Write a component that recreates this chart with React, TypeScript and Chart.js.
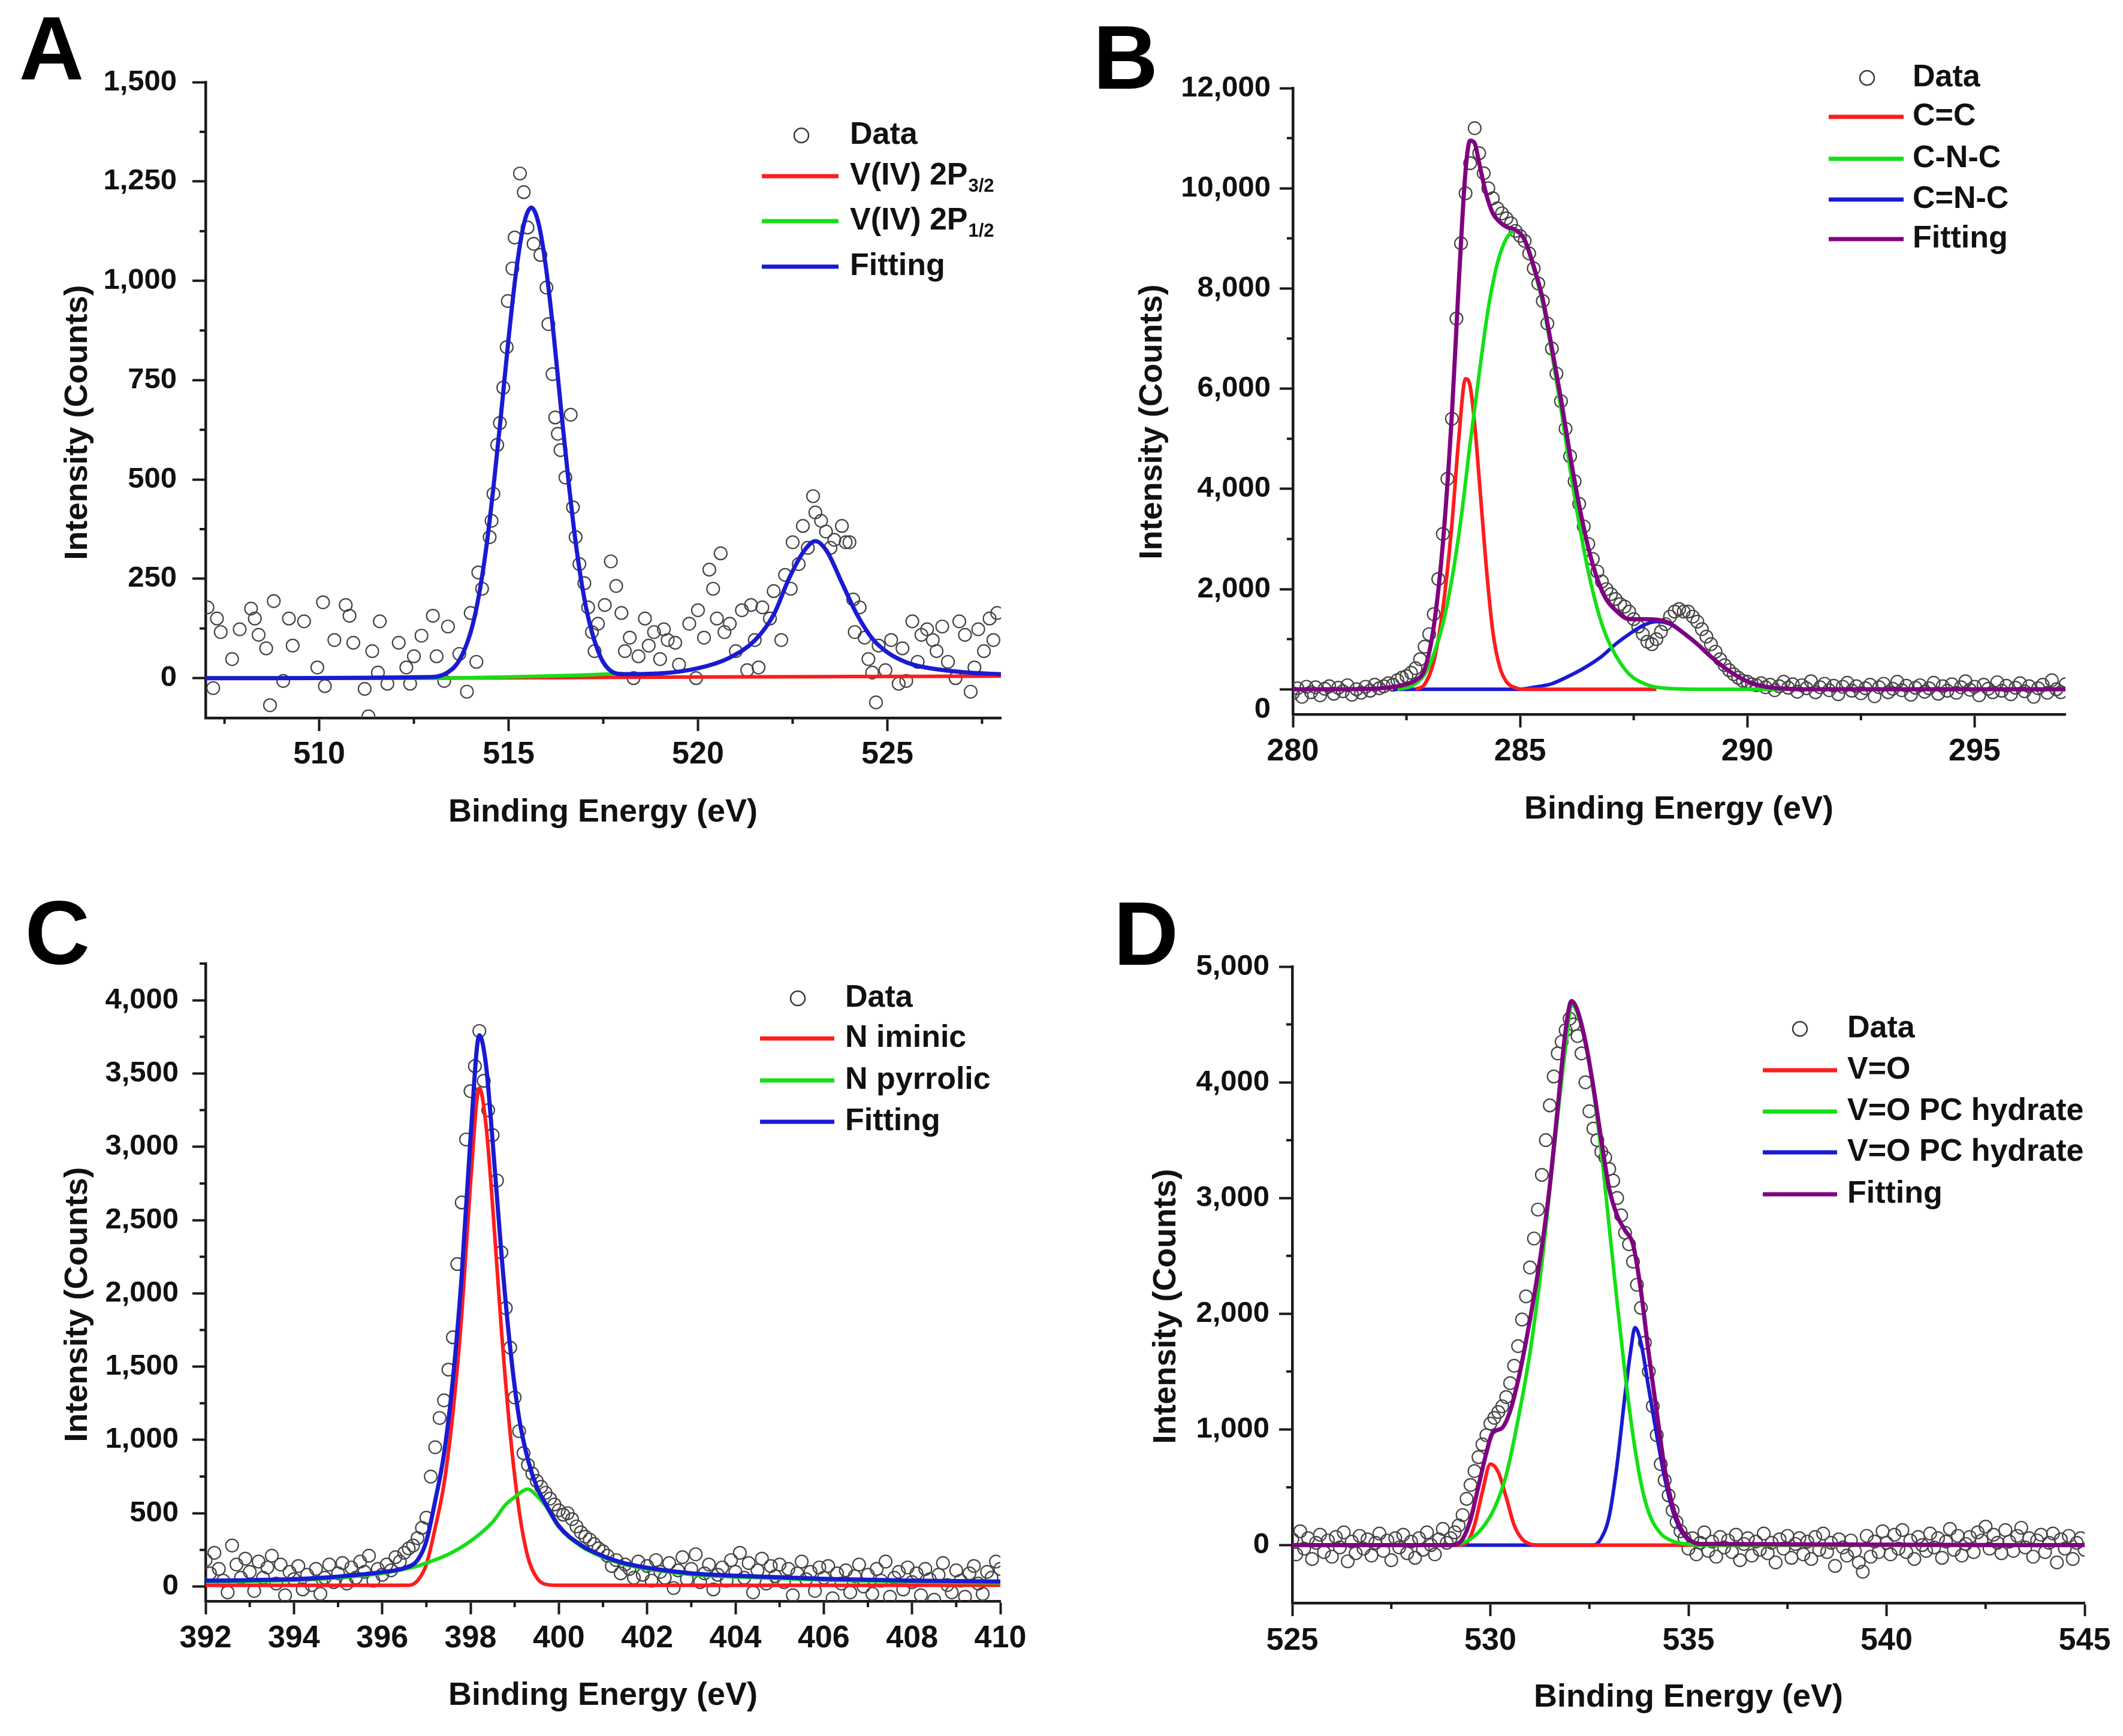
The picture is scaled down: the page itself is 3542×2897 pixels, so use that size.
import { useEffect, useRef } from 'react';
import { Chart, registerables } from 'chart.js';

Chart.register(...registerables);

const FONT = '"Liberation Sans", Arial, Helvetica, sans-serif';
const TEXT = '#111111';
const AXIS = '#1a1a1a';
const RED = '#ff1c1c';
const GREEN = '#14e014';
const BLUE = '#1a1ad2';
const PURPLE = '#800080';

// ---------------- Panel A : V 2p ----------------
const energyA = [507.05, 507.2, 507.3, 507.4, 507.7, 507.9, 508.2, 508.3, 508.4, 508.6, 508.7, 508.8, 509.05, 509.2, 509.3, 509.6, 509.95, 510.1, 510.15, 510.4, 510.7, 510.8, 510.9, 511.2, 511.3, 511.4, 511.55, 511.6, 511.8, 512.1, 512.3, 512.4, 512.5, 512.7, 513.0, 513.1, 513.3, 513.4, 513.7, 513.9, 514.0, 514.15, 514.2, 514.3, 514.5, 514.55, 514.6, 514.7, 514.77, 514.86, 514.95, 514.98, 515.1, 515.16, 515.3, 515.4, 515.5, 515.66, 515.84, 516.0, 516.05, 516.16, 516.23, 516.3, 516.37, 516.5, 516.64, 516.7, 516.77, 516.87, 517.0, 517.1, 517.2, 517.27, 517.36, 517.54, 517.7, 517.84, 517.98, 518.07, 518.2, 518.3, 518.43, 518.6, 518.7, 518.84, 519.0, 519.1, 519.2, 519.4, 519.5, 519.77, 519.95, 520.0, 520.16, 520.3, 520.4, 520.5, 520.6, 520.7, 520.84, 521.0, 521.16, 521.3, 521.4, 521.5, 521.6, 521.7, 521.9, 522.0, 522.2, 522.3, 522.45, 522.5, 522.66, 522.77, 522.9, 523.04, 523.1, 523.25, 523.38, 523.5, 523.6, 523.8, 523.9, 524.0, 524.1, 524.14, 524.27, 524.4, 524.5, 524.6, 524.7, 524.77, 524.95, 525.1, 525.3, 525.4, 525.5, 525.66, 525.8, 525.9, 526.05, 526.2, 526.3, 526.45, 526.6, 526.8, 526.9, 527.05, 527.2, 527.3, 527.4, 527.55, 527.7, 527.8, 527.9];
const countsA = [178, -25, 150, 116, 48, 123, 175, 150, 109, 75, -68, 194, -7, 150, 82, 143, 27, 191, -20, 96, 184, 157, 89, -27, -96, 68, 14, 143, -14, 89, 27, -14, 55, 107, 157, 55, -7, 130, 61, -34, 164, 41, 266, 225, 355, 396, 464, 587, 642, 731, 833, 949, 1031, 1109, 1270, 1223, 1134, 1093, 1065, 983, 891, 765, 656, 615, 574, 505, 663, 430, 355, 287, 239, 178, 116, 68, 137, 184, 294, 232, 164, 68, 102, 0, 55, 150, 82, 116, 48, 123, 96, 89, 34, 137, 0, 171, 102, 273, 225, 150, 314, 116, 137, 68, 171, 20, 184, 96, 27, 178, 150, 219, 96, 260, 225, 342, 287, 383, 328, 458, 417, 396, 369, 328, 348, 383, 342, 342, 198, 116, 178, 102, 48, 14, -61, 82, 20, 96, -14, 75, -7, 143, 41, 109, 123, 96, 68, 130, 41, 0, 143, 109, -34, 27, 123, 68, 150, 96, 164];
const fitAx = [507, 513.0, 513.4, 513.7, 514.0, 514.2, 514.4, 514.6, 514.8, 515.0, 515.2, 515.4, 515.6, 515.8, 516.0, 516.2, 516.4, 516.6, 516.8, 517.0, 517.2, 517.5, 518.0, 519.0, 520.0, 520.8, 521.5, 522.0, 522.4, 522.8, 523.1, 523.4, 523.8, 524.2, 524.6, 525.0, 525.5, 526.0, 527.0, 528.0];
const fitAy = [0, 3, 15, 45, 116, 200, 321, 480, 663, 855, 1024, 1141, 1184, 1141, 1024, 855, 663, 480, 321, 200, 116, 40, 10, 12, 25, 50, 95, 160, 250, 320, 345, 320, 240, 160, 100, 65, 40, 27, 15, 10];
const p32Ax = [507, 512, 518, 520, 524, 528];
const p32Ay = [0, 0, 2, 3, 4, 5];
const p12Ax = [507, 513.3, 514.5, 516, 517, 518];
const p12Ay = [0, 0, 2, 5, 8, 12];
const xTicksA = [510, 515, 520, 525];
const yTicksA = [0, 250, 500, 750, 1000, 1250, 1500];
const xMinorA = [507.5, 512.5, 517.5, 522.5, 527.5];
const yMinorA = [125, 375, 625, 875, 1125, 1375];

// ---------------- Panel B : C 1s ----------------
const startB = 280;
const stepB = 0.1;
const countsB = [
  -80, 20, -150, 50, -60, 40, -120, 10, 60, -90,
  30, -40, 80, -110, 0, -70, 50, -30, 90, 20,
  60, 120, 90, 180, 230, 260, 330, 420, 600, 850,
  1100, 1500, 2200, 3100, 4200, 5400, 7400, 8900, 9900, 10500,
  11200, 10700, 10300, 10000, 9800, 9600, 9500, 9400, 9300, 9150,
  9050, 8950, 8700, 8400, 8100, 7750, 7300, 6800, 6300, 5750,
  5200, 4650, 4150, 3700, 3250, 2900, 2600, 2350, 2150, 2000,
  1900, 1800, 1700, 1650, 1550, 1400, 1250, 1100, 950, 900,
  1000, 1150, 1300, 1450, 1550, 1600, 1550, 1550, 1450, 1350,
  1200, 1050, 900, 750, 600, 480, 380, 300, 230, 170,
  150, 100, 80, 120, 40, 90, -20, 60, 150, 30,
  100, -50, 80, 20, 160, -60, 40, 110, -20, 70,
  -100, 50, 130, -30, 60, -80, 20, 90, -140, 40,
  110, -60, 10, 150, -20, 70, -110, 30, 80, -50,
  20, 130, -90, 60, -30, 100, -70, 40, 160, -10,
  50, -120, 90, 10, -60, 140, -30, 70, -100, 30,
  120, -40, 60, -150, 20, 90, -70, 180, 0, -60,
  100,
];
const fitBx = [280, 281, 281.8, 282.0, 282.3, 282.5, 282.7, 282.9, 283.1, 283.3, 283.5, 283.65, 283.8, 283.9, 284.0, 284.1, 284.25, 284.4, 284.55, 284.7, 284.9, 285.1, 285.3, 285.5, 285.7, 285.9, 286.1, 286.3, 286.5, 286.7, 286.9, 287.1, 287.4, 287.7, 288.0, 288.3, 288.6, 288.9, 289.2, 289.5, 289.8, 290.1, 290.4, 290.8, 291.2, 292, 297];
const fitBy = [0, 0, 10, 25, 60, 100, 180, 400, 1250, 2900, 5500, 8100, 10350, 10950, 10900, 10500, 9900, 9500, 9330, 9230, 9170, 8970, 8440, 7780, 6810, 5790, 4670, 3670, 2830, 2200, 1790, 1580, 1400, 1400, 1390, 1315, 1120, 900, 650, 430, 250, 120, 50, 10, 0, 0, 0];
const ccBx = [282.7, 282.9, 283.1, 283.3, 283.5, 283.65, 283.8, 283.9, 284.0, 284.1, 284.25, 284.4, 284.55, 284.7, 284.9, 285.1, 288];
const ccBy = [0, 100, 550, 1600, 3300, 5000, 6200, 6050, 5300, 4200, 2500, 1150, 450, 150, 30, 0, 0];
const cncBx = [282.3, 282.6, 282.9, 283.1, 283.3, 283.5, 283.7, 283.9, 284.1, 284.3, 284.5, 284.7, 284.9, 285.1, 285.3, 285.5, 285.7, 285.9, 286.1, 286.3, 286.5, 286.7, 286.9, 287.1, 287.4, 287.8, 288.2, 289, 291];
const cncBy = [0, 60, 300, 700, 1300, 2200, 3400, 4900, 6300, 7600, 8500, 9000, 9150, 8950, 8400, 7700, 6700, 5600, 4400, 3300, 2350, 1600, 1050, 680, 300, 90, 20, 0, 0];
const cnBx = [282.2, 285.0, 285.3, 285.7, 286.0, 286.4, 286.8, 287.1, 287.4, 287.7, 288.0, 288.3, 288.6, 288.9, 289.2, 289.5, 289.8, 290.1, 290.4, 290.8, 291.2];
const cnBy = [0, 0, 40, 110, 230, 420, 660, 900, 1100, 1270, 1350, 1300, 1120, 900, 650, 430, 250, 120, 50, 10, 0];
const xTicksB = [280, 285, 290, 295];
const yTicksB = [0, 2000, 4000, 6000, 8000, 10000, 12000];
const xMinorB = [282.5, 287.5, 292.5];
const yMinorB = [1000, 3000, 5000, 7000, 9000, 11000];

// ---------------- Panel C : N 1s ----------------
const startC = 392;
const stepC = 0.1;
const countsC = [
  180, 90, 230, 120, 40, -40, 280, 150, 60, 190,
  100, -30, 170, 60, 130, 210, 20, 150, -60, 100,
  50, 140, -20, 80, 10, 120, -50, 60, 150, 30,
  90, 160, 20, 130, 60, 170, 100, 210, 40, 120,
  80, 150, 110, 200, 170, 230, 260, 280, 330, 400,
  470, 750, 950, 1150, 1270, 1480, 1700, 2200, 2620, 3050,
  3380, 3550, 3790, 3450, 3250, 3080, 2770, 2280, 1900, 1630,
  1290, 1060, 910, 830, 770, 720, 680, 640, 600, 560,
  520, 490, 500, 460, 410, 370, 340, 320, 290, 260,
  240, 210, 140, 180, 90, 150, 120, 60, 170, 80,
  140, 40, 180, 100, 60, 160, -10, 110, 200, 50,
  120, 220, 30, 90, 150, -20, 80, 130, 40, 180,
  100, 230, 60, 160, -40, 110, 190, 20, 140, 70,
  150, 30, 120, -60, 90, 170, 50, 100, -30, 130,
  60, 140, -80, 90, 20, 110, -40, 70, 150, 0,
  80, -50, 120, 40, 170, -70, 60, 100, -20, 130,
  30, 90, -60, 120, 50, -90, 80, 160, 10, -40,
  110, 40, -70, 90, 140, 20, -50, 100, 60, 170,
  120,
];
const fitCx = [392, 394, 395, 396, 396.5, 396.8, 397.0, 397.2, 397.4, 397.6, 397.8, 398.0, 398.2, 398.35, 398.5, 398.7, 398.9, 399.1, 399.3, 399.5, 399.7, 400.0, 400.5, 401.0, 401.5, 402.0, 403.0, 404.0, 406.0, 408.0, 410.0];
const fitCy = [40, 50, 68, 98, 126, 180, 310, 585, 905, 1410, 2120, 3060, 3760, 3560, 3040, 2270, 1625, 1150, 865, 680, 565, 413, 283, 208, 158, 128, 90, 74, 52, 40, 34];
const imCx = [392, 396.6, 396.8, 397.0, 397.2, 397.4, 397.6, 397.8, 398.0, 398.2, 398.35, 398.5, 398.7, 398.9, 399.1, 399.3, 399.5, 399.7, 400.0, 410];
const imCy = [8, 8, 40, 150, 400, 700, 1180, 1850, 2750, 3400, 3150, 2600, 1750, 1040, 520, 200, 60, 15, 8, 8];
const pyCx = [392, 394, 395, 396, 396.5, 396.8, 397.0, 397.5, 398.0, 398.5, 398.8, 399.0, 399.2, 399.3, 399.5, 399.7, 400.0, 400.5, 401.0, 401.5, 402, 403, 404, 406, 408, 410];
const pyCy = [32, 42, 60, 90, 118, 140, 160, 220, 310, 440, 560, 610, 655, 665, 620, 550, 405, 275, 200, 150, 120, 82, 66, 44, 32, 26];
const xTicksC = [392, 394, 396, 398, 400, 402, 404, 406, 408, 410];
const yTicksC = [0, 500, 1000, 1500, 2000, 2500, 3000, 3500, 4000];
const xMinorC = [393, 395, 397, 399, 401, 403, 405, 407, 409];
const yMinorC = [250, 750, 1250, 1750, 2250, 2750, 3250, 3750, 4250];

// ---------------- Panel D : O 1s ----------------
const startD = 525;
const stepD = 0.1;
const countsD = [
  50, -80, 120, -30, 60, -120, 20, 90, -60, 40,
  -100, 70, -20, 110, -140, 30, -70, 80, -30, 50,
  -90, 20, 100, -50, 40, -130, 60, -20, 90, -70,
  30, -110, 60, -40, 110, 0, -80, 50, 140, 20,
  60, 110, 170, 260, 400, 520, 640, 760, 870, 950,
  1050, 1100, 1150, 1200, 1280, 1400, 1550, 1720, 1950, 2150,
  2400, 2650, 2900, 3200, 3500, 3800, 4050, 4250, 4350, 4450,
  4550, 4500, 4400, 4250, 4000, 3750, 3600, 3500, 3400, 3350,
  3250, 3150, 3000, 2850, 2700, 2600, 2450, 2250, 2050, 1750,
  1500, 1200, 950, 700, 560, 430, 300, 200, 120, 60,
  -30, 60, -80, 20, 110, -50, 30, -100, 70, -20,
  40, -60, 90, -130, 10, 60, -90, 30, -40, 100,
  -70, 20, -150, 50, -30, 80, -110, 10, 60, -80,
  30, -120, 70, -40, 100, -60, 20, -180, 50, -20,
  -90, 40, -50, -150, -230, 80, -100, 30, -60, 120,
  20, -80, 90, -30, 130, -60, 40, -120, 70, 0,
  -50, 100, -20, 60, -110, 30, 140, -40, 80, -90,
  10, 70, -60, 110, 40, 160, -30, 90, 20, -70,
  130, 30, -50, 80, 150, -20, 60, -100, 40, 90,
  -60, 20, 100, -150, 50, -30, 80, -120, 20, 60,
  -40,
];
const fitDx = [525, 529.0, 529.3, 529.5, 529.7, 529.9, 530.05, 530.3, 530.5, 530.7, 530.9, 531.1, 531.3, 531.5, 531.7, 531.9, 532.05, 532.2, 532.4, 532.6, 532.8, 533.0, 533.2, 533.4, 533.6, 533.8, 534.0, 534.2, 534.4, 534.6, 534.8, 535.0, 535.3, 545];
const fitDy = [0, 0, 53, 221, 510, 798, 966, 1014, 1159, 1423, 1760, 2144, 2577, 3106, 3779, 4452, 4702, 4620, 4350, 3960, 3500, 3080, 2850, 2720, 2600, 2200, 1650, 1150, 660, 340, 150, 55, 10, 0];
const voDx = [525, 529.2, 529.4, 529.6, 529.8, 530.0, 530.2, 530.4, 530.6, 530.8, 531.0, 531.2, 545];
const voDy = [0, 0, 20, 173, 462, 700, 630, 413, 173, 53, 10, 0, 0];
const hyd1Dx = [525, 529.0, 529.2, 529.5, 529.8, 530.1, 530.4, 530.7, 531.0, 531.3, 531.6, 531.9, 532.05, 532.2, 532.5, 532.8, 533.0, 533.2, 533.4, 533.6, 533.8, 534.0, 534.3, 534.6, 535.0, 535.3, 545];
const hyd1Dy = [0, 0, 10, 53, 149, 317, 606, 1087, 1664, 2433, 3394, 4308, 4669, 4596, 4150, 3400, 2750, 2100, 1480, 950, 540, 280, 100, 35, 8, 0, 0];
const hyd2Dx = [525, 532.6, 532.8, 533.0, 533.2, 533.4, 533.55, 533.65, 533.8, 534.0, 534.2, 534.4, 534.6, 534.8, 535.0, 535.3, 545];
const hyd2Dy = [0, 0, 60, 250, 700, 1300, 1700, 1880, 1750, 1350, 950, 580, 300, 130, 45, 8, 0];
const xTicksD = [525, 530, 535, 540, 545];
const yTicksD = [0, 1000, 2000, 3000, 4000, 5000];
const xMinorD = [527.5, 532.5, 537.5, 542.5];
const yMinorD = [500, 1500, 2500, 3500, 4500];

const X_TITLE = 'Binding Energy (eV)';
const Y_TITLE = 'Intensity (Counts)';

function energyGrid(start: number, step: number, n: number): number[] {
  return Array.from({ length: n }, (_, i) => Math.round((start + i * step) * 100) / 100);
}

type LineSpec = { label: string; sub?: string; color: string; x: number[]; y: number[]; width: number; z: number };
type PanelSpec = {
  letter: string;
  left: number; top: number; w: number; h: number;
  area: { l: number; t: number; r: number; b: number };
  xMin: number; xMax: number; yMin: number; yMax: number;
  xTicks: number[]; yTicks: number[]; xMinor: number[]; yMinor: number[];
  xPad: number; yPad: number; zeroShift: number;
  dataX: number[]; dataY: number[];
  lines: LineSpec[];
  letterPos: [number, number];
  yTitlePos: [number, number];
  xTitlePos: [number, number];
  legend: { cx: number; cy: number; textX: number; x0: number; x1: number; rows: number[] };
};

const panels: PanelSpec[] = [
  {
    letter: 'A', left: 0, top: 0, w: 1771, h: 1440,
    area: { l: 343, t: 137, r: 1670, b: 1198 },
    xMin: 507, xMax: 528, yMin: -100, yMax: 1500,
    xTicks: xTicksA, yTicks: yTicksA, xMinor: xMinorA, yMinor: yMinorA,
    xPad: 8, yPad: 26, zeroShift: 0,
    dataX: energyA, dataY: countsA,
    lines: [
      { label: 'V(IV) 2P', sub: '3/2', color: RED, x: p32Ax, y: p32Ay, width: 6, z: 3 },
      { label: 'V(IV) 2P', sub: '1/2', color: GREEN, x: p12Ax, y: p12Ay, width: 6, z: 2 },
      { label: 'Fitting', color: BLUE, x: fitAx, y: fitAy, width: 7, z: 1 },
    ],
    letterPos: [86, 132], yTitlePos: [130, 705], xTitlePos: [1006, 1356],
    legend: { cx: 1337, cy: 226, textX: 1418, x0: 1271, x1: 1399, rows: [294, 369, 445] },
  },
  {
    letter: 'B', left: 1771, top: 0, w: 1771, h: 1440,
    area: { l: 386, t: 147, r: 1675, b: 1192 },
    xMin: 280, xMax: 297, yMin: -500, yMax: 12000,
    xTicks: xTicksB, yTicks: yTicksB, xMinor: xMinorB, yMinor: yMinorB,
    xPad: 9, yPad: 15, zeroShift: 34,
    dataX: energyGrid(startB, stepB, countsB.length), dataY: countsB,
    lines: [
      { label: 'C=C', color: RED, x: ccBx, y: ccBy, width: 6, z: 3 },
      { label: 'C-N-C', color: GREEN, x: cncBx, y: cncBy, width: 6, z: 2 },
      { label: 'C=N-C', color: BLUE, x: cnBx, y: cnBy, width: 6, z: 4 },
      { label: 'Fitting', color: PURPLE, x: fitBx, y: fitBy, width: 7, z: 1 },
    ],
    letterPos: [107, 148], yTitlePos: [152, 704], xTitlePos: [1030, 1351],
    legend: { cx: 1344, cy: 130, textX: 1420, x0: 1280, x1: 1405, rows: [195, 265, 333, 399] },
  },
  {
    letter: 'C', left: 0, top: 1440, w: 1771, h: 1457,
    area: { l: 343, t: 168, r: 1669, b: 1232 },
    xMin: 392, xMax: 410, yMin: -100, yMax: 4250,
    xTicks: xTicksC, yTicks: yTicksC, xMinor: xMinorC, yMinor: yMinorC,
    xPad: 9, yPad: 23, zeroShift: 0,
    dataX: energyGrid(startC, stepC, countsC.length), dataY: countsC,
    lines: [
      { label: 'N iminic', color: RED, x: imCx, y: imCy, width: 6, z: 3 },
      { label: 'N pyrrolic', color: GREEN, x: pyCx, y: pyCy, width: 6, z: 2 },
      { label: 'Fitting', color: BLUE, x: fitCx, y: fitCy, width: 7, z: 1 },
    ],
    letterPos: [96, 169], yTitlePos: [130, 737], xTitlePos: [1006, 1390],
    legend: { cx: 1331, cy: 226, textX: 1410, x0: 1268, x1: 1392, rows: [293, 363, 432] },
  },
  {
    letter: 'D', left: 1771, top: 1440, w: 1771, h: 1457,
    area: { l: 385, t: 173, r: 1707, b: 1235 },
    xMin: 525, xMax: 545, yMin: -500, yMax: 5000,
    xTicks: xTicksD, yTicks: yTicksD, xMinor: xMinorD, yMinor: yMinorD,
    xPad: 10, yPad: 16, zeroShift: 0,
    dataX: energyGrid(startD, stepD, countsD.length), dataY: countsD,
    lines: [
      { label: 'V=O', color: RED, x: voDx, y: voDy, width: 6, z: 3 },
      { label: 'V=O PC hydrate', color: GREEN, x: hyd1Dx, y: hyd1Dy, width: 6, z: 2 },
      { label: 'V=O PC hydrate', color: BLUE, x: hyd2Dx, y: hyd2Dy, width: 6, z: 4 },
      { label: 'Fitting', color: PURPLE, x: fitDx, y: fitDy, width: 7, z: 1 },
    ],
    letterPos: [141, 170], yTitlePos: [175, 740], xTitlePos: [1046, 1393],
    legend: { cx: 1232, cy: 277, textX: 1311, x0: 1170, x1: 1294, rows: [346, 415, 483, 553] },
  },
];

const X_AXIS_H = 130;
const TICK_LEN = 22;
const MINOR_LEN = 10;
const X_FONT = 52;
const Y_FONT = 49;

function Panel({ spec }: { spec: PanelSpec }) {
  const ref = useRef<HTMLCanvasElement | null>(null);
  useEffect(() => {
    const canvas = ref.current;
    if (!canvas) return;
    const s = spec;
    const lineSets = s.lines.map((l) => ({
      type: 'line',
      label: l.sub ? l.label + l.sub : l.label,
      data: l.x.map((x, i) => ({ x, y: l.y[i] })),
      borderColor: l.color,
      backgroundColor: l.color,
      borderWidth: l.width,
      pointRadius: 0,
      pointHoverRadius: 0,
      fill: false,
      cubicInterpolationMode: 'monotone',
      order: l.z,
    }));
    const dataSet = {
      type: 'scatter',
      label: 'Data',
      data: s.dataX.map((x, i) => ({ x, y: s.dataY[i] })),
      pointRadius: 10.5,
      pointBorderWidth: 2.2,
      pointBorderColor: '#454545',
      pointBackgroundColor: 'rgba(255,255,255,0)',
      showLine: false,
      order: 20,
    };

    const decor = {
      id: 'decor',
      afterDraw(chart: any) {
        const ctx = chart.ctx;
        const xs = chart.scales.x;
        const ys = chart.scales.y;
        const { left, bottom } = chart.chartArea;
        ctx.save();
        // minor ticks
        ctx.strokeStyle = AXIS;
        ctx.lineWidth = 4;
        ctx.beginPath();
        s.xMinor.forEach((v) => {
          const px = xs.getPixelForValue(v);
          ctx.moveTo(px, bottom);
          ctx.lineTo(px, bottom + MINOR_LEN);
        });
        s.yMinor.forEach((v) => {
          const py = ys.getPixelForValue(v);
          ctx.moveTo(left, py);
          ctx.lineTo(left - MINOR_LEN, py);
        });
        ctx.stroke();

        // shifted zero label (as in the original figure)
        if (s.zeroShift) {
          ctx.fillStyle = TEXT;
          ctx.font = `bold ${Y_FONT}px ${FONT}`;
          ctx.textAlign = 'right';
          ctx.textBaseline = 'middle';
          ctx.fillText('0', left - TICK_LEN - s.yPad, ys.getPixelForValue(0) + s.zeroShift);
        }

        // panel letter
        ctx.fillStyle = '#000';
        ctx.font = `bold 150px ${FONT}`;
        ctx.textAlign = 'center';
        ctx.textBaseline = 'alphabetic';
        ctx.fillText(s.letter, s.letterPos[0], s.letterPos[1]);

        // axis titles
        ctx.fillStyle = TEXT;
        ctx.font = `bold 54px ${FONT}`;
        ctx.textBaseline = 'middle';
        ctx.fillText(X_TITLE, s.xTitlePos[0], s.xTitlePos[1]);
        ctx.save();
        ctx.translate(s.yTitlePos[0], s.yTitlePos[1]);
        ctx.rotate(-Math.PI / 2);
        ctx.fillText(Y_TITLE, 0, 0);
        ctx.restore();

        // legend
        const lg = s.legend;
        ctx.beginPath();
        ctx.arc(lg.cx, lg.cy, 12, 0, Math.PI * 2);
        ctx.strokeStyle = '#3a3a3a';
        ctx.lineWidth = 2.5;
        ctx.stroke();
        ctx.textAlign = 'left';
        ctx.font = `bold 52px ${FONT}`;
        ctx.fillStyle = TEXT;
        ctx.fillText('Data', lg.textX, lg.cy);
        s.lines.forEach((l, i) => {
          const y = lg.rows[i];
          ctx.beginPath();
          ctx.moveTo(lg.x0, y);
          ctx.lineTo(lg.x1, y);
          ctx.strokeStyle = l.color;
          ctx.lineWidth = 7;
          ctx.stroke();
          ctx.font = `bold 52px ${FONT}`;
          ctx.fillStyle = TEXT;
          ctx.fillText(l.label, lg.textX, y);
          if (l.sub) {
            const w = ctx.measureText(l.label).width;
            ctx.font = `bold 31px ${FONT}`;
            ctx.fillText(l.sub, lg.textX + w + 1, y + 17);
          }
        });
        ctx.restore();
      },
    };

    const chart = new Chart(canvas, {
      type: 'scatter',
      data: { datasets: [dataSet, ...lineSets] as any },
      options: {
        animation: false,
        responsive: false,
        devicePixelRatio: 1,
        locale: 'en-US',
        events: [],
        layout: {
          padding: {
            left: 0,
            top: s.area.t,
            right: s.w - s.area.r,
            bottom: s.h - s.area.b - X_AXIS_H,
          },
        },
        plugins: {
          legend: { display: false },
          tooltip: { enabled: false },
          title: { display: false },
        },
        scales: {
          x: {
            type: 'linear',
            min: s.xMin,
            max: s.xMax,
            afterBuildTicks: (sc: any) => {
              sc.ticks = s.xTicks.map((v) => ({ value: v }));
            },
            afterFit: (sc: any) => {
              sc.height = X_AXIS_H;
            },
            grid: {
              display: true,
              drawOnChartArea: false,
              drawTicks: true,
              tickLength: TICK_LEN,
              tickWidth: 4,
              tickColor: AXIS,
            },
            border: { display: true, color: AXIS, width: 4.5 },
            ticks: {
              font: { family: FONT, size: X_FONT, weight: 'bold' },
              color: TEXT,
              padding: s.xPad,
              maxRotation: 0,
              autoSkip: false,
              callback: (v: any) => Number(v).toLocaleString('en-US'),
            },
          },
          y: {
            type: 'linear',
            min: s.yMin,
            max: s.yMax,
            afterBuildTicks: (sc: any) => {
              sc.ticks = s.yTicks.map((v) => ({ value: v }));
            },
            afterFit: (sc: any) => {
              sc.width = s.area.l;
            },
            grid: {
              display: true,
              drawOnChartArea: false,
              drawTicks: true,
              tickLength: TICK_LEN,
              tickWidth: 4,
              tickColor: AXIS,
            },
            border: { display: true, color: AXIS, width: 4.5 },
            ticks: {
              font: { family: FONT, size: Y_FONT, weight: 'bold' },
              color: TEXT,
              padding: s.yPad,
              autoSkip: false,
              callback: (v: any) => (s.zeroShift && Number(v) === 0 ? '' : Number(v).toLocaleString('en-US')),
            },
          },
        },
      } as any,
      plugins: [decor],
    });
    return () => chart.destroy();
  }, [spec]);

  return (
    <canvas
      ref={ref}
      width={spec.w}
      height={spec.h}
      style={{ position: 'absolute', left: spec.left, top: spec.top, width: spec.w, height: spec.h }}
    />
  );
}

export default function App() {
  return (
    <div style={{ position: 'absolute', left: 0, top: 0, width: 3542, height: 2897, background: '#fff' }}>
      {panels.map((p) => (
        <Panel key={p.letter} spec={p} />
      ))}
    </div>
  );
}
